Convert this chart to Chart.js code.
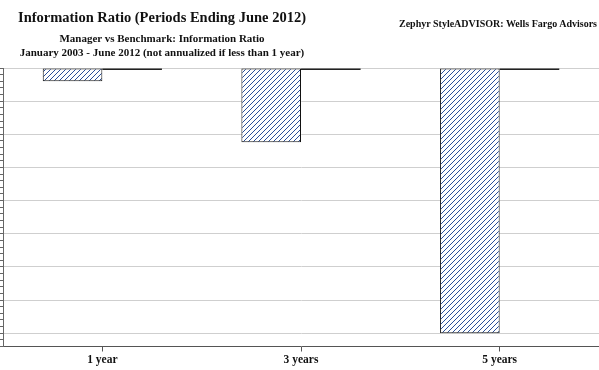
<!DOCTYPE html>
<html>
<head>
<meta charset="utf-8">
<script src="https://cdn.jsdelivr.net/npm/chart.js@4"></script>
<style>
  html, body { margin: 0; padding: 0; background: #fff; }
  #wrap { position: relative; width: 599px; height: 370px; overflow: hidden; }
  .txt { position: absolute; font-family: "Liberation Serif", "Times New Roman", serif; font-weight: bold; color: #111; white-space: nowrap; }
  #title { left: 0; width: 324px; text-align: center; top: 9px; font-size: 14.5px; line-height: 17px; }
  #sub1 { left: 0; width: 324px; text-align: center; top: 32px; font-size: 11px; line-height: 13px; }
  #sub2 { left: 0; width: 324px; text-align: center; top: 46px; font-size: 11px; line-height: 13px; }
  #source { right: 2px; top: 18px; font-size: 10px; line-height: 12px; }
</style>
</head>
<body>
<div id="wrap">
  <canvas id="ir-chart" width="599" height="370"></canvas>
  <div class="txt" id="title">Information Ratio (Periods Ending June 2012)</div>
  <div class="txt" id="sub1">Manager vs Benchmark: Information Ratio</div>
  <div class="txt" id="sub2">January 2003 - June 2012 (not annualized if less than 1 year)</div>
  <div class="txt" id="source">Zephyr StyleADVISOR: Wells Fargo Advisors</div>
</div>
<script>
// Chart data
const categories = ['1 year', '3 years', '5 years'];
const managerIR = [-0.04, -0.224, -0.80];
const benchmarkIR = [0, 0, 0];

// Y axis range (labels are cut off in the original)
const yMin = -0.84;
const yMax = 0;
const minorStep = 0.02;
const majorStep = 0.1;

// Diagonal hatch fill for the manager bars
function makeHatch() {
    const c = document.createElement('canvas');
    c.width = 5;
    c.height = 5;
    const g = c.getContext('2d');
    g.fillStyle = '#fff';
    g.fillRect(0, 0, 5, 5);
    g.strokeStyle = '#2a4f9a';
    g.lineWidth = 1;
    g.beginPath();
    g.moveTo(0, 5); g.lineTo(5, 0);
    g.moveTo(-1, 1); g.lineTo(1, -1);
    g.moveTo(4, 6); g.lineTo(6, 4);
    g.stroke();
    return g.createPattern(c, 'repeat');
}

function isMajor(v) {
    return Math.round(v * 100) % Math.round(majorStep * 100) === 0;
}

const ctx = document.getElementById('ir-chart').getContext('2d');
const irChart = new Chart(ctx, {
    type: 'bar',
    data: {
        labels: categories,
        datasets: [{
            label: 'Manager',
            data: managerIR,
            backgroundColor: makeHatch(),
            borderColor: '#111',
            borderWidth: 1,
            borderSkipped: false,
            categoryPercentage: 0.6,
            barPercentage: 1.0
        }, {
            label: 'Benchmark',
            data: benchmarkIR,
            backgroundColor: '#222',
            borderWidth: 0,
            minBarLength: 2,
            clip: false,
            categoryPercentage: 0.6,
            barPercentage: 1.0
        }]
    },
    options: {
        responsive: false,
        animation: false,
        layout: { padding: { top: 68, bottom: 1, left: 0, right: 0 } },
        plugins: {
            legend: { display: false },
            tooltip: { enabled: false }
        },
        scales: {
            x: {
                grid: {
                    offset: false,
                    drawOnChartArea: false,
                    tickLength: 5,
                    tickColor: '#555'
                },
                border: { color: '#555', width: 1 },
                ticks: {
                    color: '#111',
                    padding: 3,
                    font: { family: '"Liberation Serif", serif', size: 11.5, weight: 'bold', lineHeight: 1 }
                }
            },
            y: {
                min: yMin,
                max: yMax,
                ticks: {
                    display: false,
                    stepSize: minorStep,
                    autoSkip: false
                },
                grid: {
                    tickLength: 3,
                    color: (c) => isMajor(c.tick.value) ? '#cfcfcf' : 'rgba(0,0,0,0)',
                    tickColor: '#666',
                    lineWidth: 1
                },
                border: { color: '#666', width: 1 }
            }
        }
    }
});
</script>
</body>
</html>
